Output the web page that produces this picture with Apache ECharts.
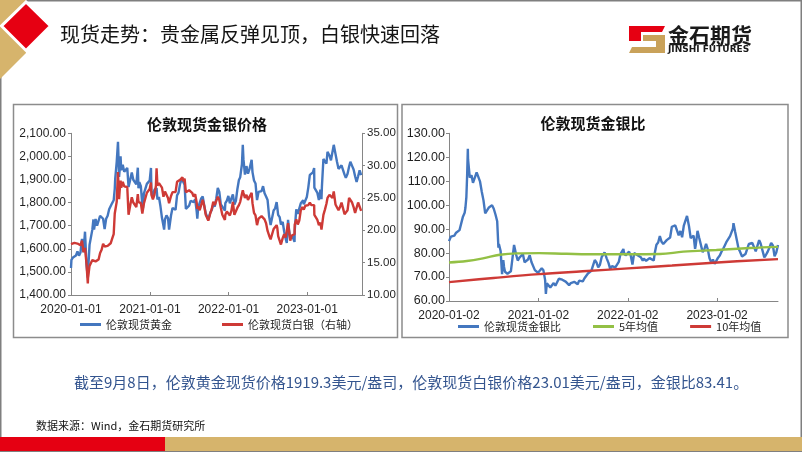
<!DOCTYPE html>
<html>
<head>
<meta charset="utf-8">
<script src="https://cdn.jsdelivr.net/npm/echarts@6/dist/echarts.min.js"></script>
<style>
html,body{margin:0;padding:0;background:#fff;}
#c{width:802px;height:452px;}
</style>
</head>
<body>
<div id="c"></div>
<script>
// ---------- DATA ----------
const priceDates = [
'2020-01-01','2020-01-03','2020-01-10','2020-01-17','2020-01-24','2020-01-31',
'2020-02-07','2020-02-14','2020-02-21','2020-02-28',
'2020-03-06','2020-03-09','2020-03-13','2020-03-19','2020-03-20','2020-03-27',
'2020-04-03','2020-04-09','2020-04-14','2020-04-17','2020-04-24',
'2020-05-01','2020-05-08','2020-05-15','2020-05-22','2020-05-29',
'2020-06-05','2020-06-12','2020-06-19','2020-06-26',
'2020-07-03','2020-07-10','2020-07-17','2020-07-22','2020-07-24','2020-07-31',
'2020-08-06','2020-08-07','2020-08-11','2020-08-14','2020-08-18','2020-08-21','2020-08-28',
'2020-09-04','2020-09-11','2020-09-18','2020-09-24',
'2020-10-02','2020-10-09','2020-10-16','2020-10-23','2020-10-30',
'2020-11-06','2020-11-09','2020-11-13','2020-11-20','2020-11-27','2020-11-30',
'2020-12-04','2020-12-11','2020-12-18','2020-12-25','2020-12-31',
'2021-01-06','2021-01-08','2021-01-15','2021-01-22','2021-01-29',
'2021-02-01','2021-02-05','2021-02-12','2021-02-19','2021-02-26',
'2021-03-05','2021-03-08','2021-03-12','2021-03-19','2021-03-26','2021-03-31',
'2021-04-09','2021-04-16','2021-04-23','2021-04-30',
'2021-05-07','2021-05-14','2021-05-21','2021-05-28',
'2021-06-01','2021-06-04','2021-06-11','2021-06-17','2021-06-25',
'2021-07-02','2021-07-09','2021-07-16','2021-07-23','2021-07-30',
'2021-08-06','2021-08-09','2021-08-13','2021-08-20','2021-08-27',
'2021-09-03','2021-09-10','2021-09-17','2021-09-24','2021-09-29',
'2021-10-08','2021-10-15','2021-10-22','2021-10-29',
'2021-11-05','2021-11-12','2021-11-16','2021-11-19','2021-11-26',
'2021-12-03','2021-12-10','2021-12-15','2021-12-17','2021-12-24','2021-12-31',
'2022-01-07','2022-01-14','2022-01-21','2022-01-28',
'2022-02-04','2022-02-11','2022-02-18','2022-02-24',
'2022-03-04','2022-03-08','2022-03-11','2022-03-18','2022-03-25',
'2022-04-01','2022-04-08','2022-04-18','2022-04-22','2022-04-29',
'2022-05-06','2022-05-13','2022-05-16','2022-05-20','2022-05-27',
'2022-06-03','2022-06-10','2022-06-17','2022-06-24',
'2022-07-01','2022-07-08','2022-07-15','2022-07-21','2022-07-29',
'2022-08-05','2022-08-12','2022-08-15','2022-08-19','2022-08-26',
'2022-09-01','2022-09-09','2022-09-16','2022-09-23','2022-09-28',
'2022-10-04','2022-10-07','2022-10-14','2022-10-21','2022-10-28',
'2022-11-03','2022-11-04','2022-11-11','2022-11-18','2022-11-25',
'2022-12-02','2022-12-09','2022-12-13','2022-12-16','2022-12-23','2022-12-30',
'2023-01-06','2023-01-13','2023-01-20','2023-01-27',
'2023-02-02','2023-02-03','2023-02-10','2023-02-17','2023-02-24',
'2023-03-03','2023-03-08','2023-03-10','2023-03-17','2023-03-24','2023-03-31',
'2023-04-05','2023-04-14','2023-04-21','2023-04-28',
'2023-05-04','2023-05-12','2023-05-19','2023-05-26',
'2023-06-02','2023-06-09','2023-06-16','2023-06-23','2023-06-29',
'2023-07-07','2023-07-14','2023-07-20','2023-07-28',
'2023-08-04','2023-08-11','2023-08-18','2023-08-25',
'2023-09-01','2023-09-08'
];
const goldPrice = [
1517,1552,1562,1557,1571,1589,
1570,1584,1643,1585,
1674,1680,1530,1475,1499,1617,
1620,1683,1727,1683,1729,
1700,1702,1743,1735,1730,
1685,1730,1743,1771,
1774,1798,1810,1860,1902,1975,
2063,2035,1911,1944,2000,1940,1964,
1934,1940,1950,1868,
1900,1930,1899,1902,1879,
1951,1862,1889,1871,1788,1776,
1839,1839,1881,1877,1895,
1950,1850,1828,1856,1848,
1863,1814,1824,1784,1734,
1700,1683,1727,1745,1733,1683,
1744,1777,1777,1769,
1831,1843,1881,1903,
1910,1891,1877,1773,1781,
1787,1808,1812,1802,1814,
1763,1730,1779,1781,1818,
1827,1788,1754,1750,1726,
1757,1768,1792,1783,
1818,1864,1870,1846,1792,
1783,1782,1765,1798,1809,1829,
1797,1818,1835,1791,
1808,1859,1898,1910,
1966,2050,1988,1921,1958,
1925,1945,1985,1932,1896,
1883,1811,1813,1846,1853,
1850,1871,1840,1826,
1811,1742,1703,1698,1766,
1775,1802,1779,1747,1737,
1705,1716,1675,1644,1625,
1725,1695,1644,1657,1645,
1630,1681,1771,1751,1755,
1797,1798,1810,1793,1798,1824,
1866,1920,1926,1930,
1950,1865,1865,1842,1811,
1856,1815,1868,1989,1978,1969,
2020,2004,1983,1990,
2050,2011,1977,1946,
1948,1961,1958,1921,1907,
1925,1955,1977,1959,
1943,1914,1889,1914,
1940,1919.3
];
const silverPrice = [
17.85,18.10,17.98,18.05,18.00,17.95,
17.70,17.68,18.40,16.65,
17.30,17.00,14.80,11.80,12.60,14.50,
14.40,15.40,15.70,15.40,15.20,
14.90,15.50,16.50,17.00,17.90,
17.50,17.50,17.60,17.70,
18.00,18.70,19.40,22.60,22.70,24.40,
29.00,28.00,24.80,26.20,27.70,26.60,27.50,
26.80,26.80,26.70,22.40,
23.90,25.10,24.30,24.60,23.60,
25.60,24.40,24.60,24.20,22.60,22.60,
24.10,23.90,25.80,26.00,26.40,
27.40,25.50,24.80,25.50,26.90,
29.60,26.90,27.30,27.20,26.60,
25.20,25.00,26.00,26.30,25.00,24.20,
25.30,25.90,26.10,25.90,
27.50,27.30,27.80,28.00,
28.20,27.60,28.00,25.90,26.10,
26.20,26.00,25.80,25.20,25.60,
24.30,23.30,23.70,23.10,23.90,
24.70,23.80,22.40,22.50,21.50,
22.60,23.30,24.40,23.90,
24.20,25.20,25.30,24.70,23.50,
22.40,22.20,21.60,22.40,22.90,23.10,
22.30,23.00,24.40,22.40,
22.40,23.50,23.90,24.40,
25.60,26.20,25.80,25.00,25.50,
24.70,24.80,25.80,24.20,22.70,
22.30,20.80,21.20,21.80,22.10,
22.20,21.90,21.70,21.10,
19.90,19.20,18.60,18.60,20.20,
19.90,20.80,20.40,19.10,18.90,
17.80,18.80,19.40,18.90,18.60,
21.10,20.30,18.40,19.20,19.10,
19.40,20.90,21.70,20.90,21.50,
23.10,23.60,23.70,23.20,23.80,24.00,
23.90,24.30,23.90,23.60,
23.90,22.40,22.00,21.60,20.80,
21.20,20.10,20.20,22.40,23.20,24.10,
25.00,25.50,25.20,25.00,
26.00,24.00,23.80,23.10,
23.60,24.30,24.20,22.50,22.70,
23.10,25.00,25.00,24.30,
23.60,22.70,22.70,24.30,
24.20,23.01
];
const ratioDates = [
'2020-01-02','2020-01-03','2020-01-10','2020-01-17','2020-01-24','2020-01-31',
'2020-02-07','2020-02-14','2020-02-21','2020-02-28',
'2020-03-06','2020-03-09','2020-03-13','2020-03-16','2020-03-19','2020-03-20','2020-03-27',
'2020-04-03','2020-04-09','2020-04-14','2020-04-17','2020-04-24',
'2020-05-01','2020-05-08','2020-05-15','2020-05-22','2020-05-29',
'2020-06-05','2020-06-12','2020-06-19','2020-06-26',
'2020-07-03','2020-07-10','2020-07-17','2020-07-22','2020-07-24','2020-07-31',
'2020-08-06','2020-08-07','2020-08-11','2020-08-14','2020-08-18','2020-08-21','2020-08-28',
'2020-09-04','2020-09-11','2020-09-18','2020-09-24',
'2020-10-02','2020-10-09','2020-10-16','2020-10-23','2020-10-30',
'2020-11-06','2020-11-13','2020-11-20','2020-11-27','2020-11-30',
'2020-12-04','2020-12-11','2020-12-18','2020-12-25','2020-12-31',
'2021-01-06','2021-01-08','2021-01-15','2021-01-22','2021-01-29',
'2021-02-01','2021-02-05','2021-02-12','2021-02-19','2021-02-26',
'2021-03-05','2021-03-12','2021-03-19','2021-03-26','2021-03-31',
'2021-04-09','2021-04-16','2021-04-23','2021-04-30',
'2021-05-07','2021-05-14','2021-05-21','2021-05-28',
'2021-06-04','2021-06-11','2021-06-17','2021-06-25',
'2021-07-02','2021-07-09','2021-07-16','2021-07-23','2021-07-30',
'2021-08-06','2021-08-11','2021-08-20','2021-08-27',
'2021-09-03','2021-09-10','2021-09-17','2021-09-24','2021-09-29',
'2021-10-08','2021-10-15','2021-10-22','2021-10-29',
'2021-11-05','2021-11-12','2021-11-19','2021-11-26',
'2021-12-03','2021-12-10','2021-12-15','2021-12-17','2021-12-24','2021-12-31',
'2022-01-07','2022-01-14','2022-01-21','2022-01-28',
'2022-02-04','2022-02-11','2022-02-18','2022-02-24',
'2022-03-04','2022-03-08','2022-03-11','2022-03-18','2022-03-25',
'2022-04-01','2022-04-08','2022-04-18','2022-04-22','2022-04-29',
'2022-05-06','2022-05-13','2022-05-20','2022-05-27',
'2022-06-03','2022-06-10','2022-06-17','2022-06-24',
'2022-07-01','2022-07-08','2022-07-15','2022-07-21','2022-07-29',
'2022-08-05','2022-08-12','2022-08-19','2022-08-26',
'2022-09-01','2022-09-09','2022-09-16','2022-09-23','2022-09-28',
'2022-10-04','2022-10-07','2022-10-14','2022-10-21','2022-10-28',
'2022-11-04','2022-11-11','2022-11-18','2022-11-25',
'2022-12-02','2022-12-09','2022-12-16','2022-12-23','2022-12-30',
'2023-01-06','2023-01-13','2023-01-20','2023-01-27',
'2023-02-02','2023-02-03','2023-02-10','2023-02-17','2023-02-24',
'2023-03-03','2023-03-08','2023-03-10','2023-03-17','2023-03-24','2023-03-31',
'2023-04-05','2023-04-14','2023-04-21','2023-04-28',
'2023-05-04','2023-05-12','2023-05-19','2023-05-26',
'2023-06-02','2023-06-09','2023-06-16','2023-06-23','2023-06-29',
'2023-07-07','2023-07-14','2023-07-20','2023-07-28',
'2023-08-04','2023-08-11','2023-08-18','2023-08-25',
'2023-09-01','2023-09-08'
];
const goldSilverRatio = [
85.0,85.7,86.9,86.3,87.3,88.5,
88.7,89.6,89.3,95.2,
96.8,98.8,103.4,112.0,123.5,119.0,111.5,
112.5,109.3,110.0,109.3,113.7,
114.1,109.8,105.6,102.0,96.6,
96.3,98.9,99.0,100.0,
98.5,96.1,93.3,82.3,83.8,80.9,
71.2,72.7,77.1,74.2,72.2,72.9,71.4,
72.2,72.4,73.0,83.4,
79.5,76.9,78.1,77.3,79.6,
76.2,76.8,77.3,79.1,78.6,
76.3,77.0,72.9,72.2,71.8,
71.2,72.5,73.7,72.8,68.7,
63.0,67.4,66.8,65.6,65.2,
67.5,66.4,66.3,69.3,69.5,
68.9,68.6,68.1,68.3,
66.6,67.5,67.7,68.0,
68.5,67.0,68.5,68.2,
68.2,69.5,70.2,71.5,70.9,
72.6,74.2,77.1,76.1,
74.0,75.1,78.3,77.8,80.3,
77.7,75.9,73.4,74.6,
75.1,74.0,74.7,76.3,
79.6,80.3,81.7,80.3,79.0,79.2,
80.6,79.0,75.2,80.0,
80.7,79.1,79.4,78.3,
76.8,77.7,77.1,76.8,76.8,
77.9,78.4,76.9,79.9,83.5,
84.4,87.1,84.7,83.8,
83.3,85.4,84.8,86.5,
91.0,90.7,91.6,91.3,87.4,
89.2,86.6,91.5,91.9,
95.5,91.3,86.3,87.0,87.3,
81.8,83.5,89.3,86.3,86.1,
80.4,81.6,83.8,81.6,
77.8,76.2,77.3,75.5,76.0,
78.1,79.0,80.6,81.8,
81.6,83.3,84.8,85.3,87.1,
87.6,90.3,92.5,88.8,85.3,81.7,
80.8,78.6,78.7,79.6,
78.8,83.8,83.1,84.2,
82.5,80.7,80.9,85.4,84.0,
83.3,78.2,79.1,80.6,
82.3,84.3,83.2,78.7,
80.2,83.41
];
const ma5Dates = ['2020-01-02','2020-03-15','2020-05-20','2020-07-28','2020-10-05','2021-01-04','2021-04-27','2021-09-10','2022-01-03','2022-05-13','2022-08-17','2022-12-30','2023-05-16','2023-09-08'];
const ma5Values = [76.1,76.7,77.8,79.3,79.9,80.0,79.7,79.5,79.5,79.6,80.6,81.3,82.1,82.6];
const ma10Dates = ['2020-01-02','2020-07-02','2021-01-04','2021-07-02','2022-01-03','2022-07-02','2023-01-03','2023-09-08'];
const ma10Values = [67.9,69.6,71.2,72.4,73.6,74.8,76.1,77.5];

const priceTickLabels = ['2020-01-01','2021-01-01','2022-01-01','2023-01-01'];
const ratioTickLabels = ['2020-01-02','2021-01-02','2022-01-02','2023-01-02'];

const seriesNames = ['伦敦现货黄金','伦敦现货白银（右轴）','伦敦现货金银比','5年均值','10年均值'];
const chartTitles = ['伦敦现货金银价格','伦敦现货金银比'];
const pageTitle = '现货走势：贵金属反弹见顶，白银快速回落';
const noteText = '截至9月8日，伦敦黄金现货价格1919.3美元/盎司，伦敦现货白银价格23.01美元/盎司，金银比83.41。';
const sourceText = '数据来源：Wind，金石期货研究所';

// ---------- helpers ----------
const DAY = 86400000;
function dayOf(d, base){ return Math.round((Date.parse(d) - Date.parse(base)) / DAY); }
const priceBase = priceTickLabels[0], ratioBase = ratioTickLabels[0];
const priceTickDays = priceTickLabels.map(d => dayOf(d, priceBase));
const ratioTickDays = ratioTickLabels.map(d => dayOf(d, ratioBase));
function pairs(dates, vals, base){ return dates.map((d,i)=>[dayOf(d, base), vals[i]]); }
function comma(v){ const p = v.toFixed(2).split('.'); p[0] = p[0].replace(/\B(?=(\d{3})+(?!\d))/g, ','); return p.join('.'); }
function tickLabel(v, days, labels){ const i = days.indexOf(Math.round(v)); return i >= 0 ? labels[i] : ''; }

const BLUE = '#4477BF', RED = '#CE3A36', GREEN = '#93C045';
const AX = '#868686', LBL = '#1f1f1f';
const CJK = 'Noto Sans CJK SC';
const NUM = 'Liberation Sans';
const NARROW = '"Liberation Sans Narrow", "Liberation Sans"';
const LW = 2.4;

function xAxisCfg(gridIndex, max, days, labels){
  return {
    type:'value', gridIndex, min:0, max,
    axisLine:{show:true, lineStyle:{color:AX, width:1}},
    axisTick:{show:true, inside:true, length:3, customValues:days, lineStyle:{color:AX}},
    axisLabel:{customValues:days, formatter:v=>tickLabel(v, days, labels), margin:9,
      fontFamily:NARROW, fontSize:12, color:LBL},
    splitLine:{show:false}
  };
}
function yAxisCfg(gridIndex, min, max, interval, position, fmt, fontSize, margin){
  return {
    type:'value', gridIndex, min, max, interval, position,
    axisLine:{show:true, lineStyle:{color:AX, width:1}},
    axisTick:{show:true, length:3, lineStyle:{color:AX}},
    axisLabel:{formatter:fmt, margin, fontFamily:NUM, fontSize, color:LBL},
    splitLine:{show:false}
  };
}

const chart = echarts.init(document.getElementById('c'), null, {renderer:'canvas'});

const graphics = [
  {type:'rect', shape:{x:0.75, y:0.75, width:800.5, height:450.5}, style:{fill:'none', stroke:'#7f7f7f', lineWidth:1.5}},
  {type:'polygon', shape:{points:[[0,0],[26,0],[26,53],[0,79]]}, style:{fill:'#D6B46C'}},
  {type:'polygon', shape:{points:[[26,2],[50.5,26],[26,50.5],[1.5,26]]}, style:{fill:'#E60012', stroke:'#fff', lineWidth:3}},
  {type:'text', x:60, y:34, style:{text:pageTitle, fontSize:20, fontFamily:CJK, fill:'#141414', align:'left', verticalAlign:'middle', textAlign:'left', textVerticalAlign:'middle'}},
  // logo
  {type:'polygon', shape:{points:[[629,26],[665,26],[662,32],[641,32],[641,41],[629,41]]}, style:{fill:'#E60012'}},
  {type:'polygon', shape:{points:[[643,35],[665,35],[665,53],[629,53],[632,47],[656,47],[656,41],[643,41]]}, style:{fill:'#C9A25A'}},
  {type:'text', x:668, y:35, style:{text:'金石期货', fontSize:21, fontWeight:'bold', fontFamily:CJK, fill:'#1a1a1a', align:'left', verticalAlign:'middle', textAlign:'left', textVerticalAlign:'middle'}},
  {type:'text', x:668, y:50, style:{text:'JINSHI FUTURES', fontSize:9, fontWeight:'bold', fontFamily:'DejaVu Sans', fill:'#1a1a1a', align:'left', verticalAlign:'middle', textAlign:'left', textVerticalAlign:'middle'}},
  // panels
  {type:'rect', shape:{x:13.5, y:104.5, width:384, height:233}, style:{fill:'none', stroke:'#8c8c8c', lineWidth:1.5}},
  {type:'rect', shape:{x:402, y:104.5, width:386, height:233}, style:{fill:'none', stroke:'#8c8c8c', lineWidth:1.5}},
  {type:'text', x:207, y:124, style:{text:chartTitles[0], fontSize:15, fontWeight:'bold', fontFamily:CJK, fill:'#111', align:'center', verticalAlign:'middle', textAlign:'center', textVerticalAlign:'middle'}},
  {type:'text', x:593, y:123, style:{text:chartTitles[1], fontSize:15, fontWeight:'bold', fontFamily:CJK, fill:'#111', align:'center', verticalAlign:'middle', textAlign:'center', textVerticalAlign:'middle'}},
  // bottom texts
  {type:'text', x:74, y:382, style:{text:noteText, fontSize:15, fontFamily:CJK, fill:'#34558F', align:'left', verticalAlign:'middle', textAlign:'left', textVerticalAlign:'middle'}},
  {type:'text', x:36, y:426, style:{text:sourceText, fontSize:11, fontFamily:CJK, fill:'#111', align:'left', verticalAlign:'middle', textAlign:'left', textVerticalAlign:'middle'}},
  {type:'rect', shape:{x:0, y:437, width:165, height:14}, style:{fill:'#E50012'}},
  {type:'rect', shape:{x:165, y:437, width:637, height:14}, style:{fill:'#D6B46C'}}
];

const legendCommon = {
  orient:'horizontal', icon:'rect', itemWidth:21, itemHeight:3, selectedMode:false, padding:0,
  textStyle:{fontFamily:CJK, fontSize:11, color:LBL}
};

chart.setOption({
  animation:false,
  backgroundColor:'#fff',
  graphic:graphics,
  grid:[
    {left:71, top:133.3, width:291, height:161.7, containLabel:false},
    {left:449, top:133.3, width:329, height:167.7, containLabel:false}
  ],
  legend:[
    Object.assign({}, legendCommon, {data:[seriesNames[0], seriesNames[1]], left:80, top:319, itemGap:50}),
    Object.assign({}, legendCommon, {data:[seriesNames[2], seriesNames[3], seriesNames[4]], left:458, top:321, itemGap:32})
  ],
  xAxis:[
    xAxisCfg(0, 1350, priceTickDays, priceTickLabels),
    xAxisCfg(1, 1345, ratioTickDays, ratioTickLabels)
  ],
  yAxis:[
    yAxisCfg(0, 1400, 2100, 100, 'left', comma, 12, 5),
    yAxisCfg(0, 10, 35, 5, 'right', v=>v.toFixed(2), 11.5, 5),
    yAxisCfg(1, 60, 130, 10, 'left', v=>v.toFixed(2), 12.5, 4)
  ],
  series:[
    {name:seriesNames[0], type:'line', xAxisIndex:0, yAxisIndex:0, showSymbol:false, symbol:'none',
      data:pairs(priceDates, goldPrice, priceBase), lineStyle:{color:BLUE, width:LW}, itemStyle:{color:BLUE}, z:2},
    {name:seriesNames[1], type:'line', xAxisIndex:0, yAxisIndex:1, showSymbol:false, symbol:'none',
      data:pairs(priceDates, silverPrice, priceBase), lineStyle:{color:RED, width:LW}, itemStyle:{color:RED}, z:3},
    {name:seriesNames[2], type:'line', xAxisIndex:1, yAxisIndex:2, showSymbol:false, symbol:'none',
      data:pairs(ratioDates, goldSilverRatio, ratioBase), lineStyle:{color:BLUE, width:LW}, itemStyle:{color:BLUE}, z:2},
    {name:seriesNames[3], type:'line', xAxisIndex:1, yAxisIndex:2, showSymbol:false, symbol:'none', smooth:0.4,
      data:pairs(ma5Dates, ma5Values, ratioBase), lineStyle:{color:GREEN, width:LW}, itemStyle:{color:GREEN}, z:3},
    {name:seriesNames[4], type:'line', xAxisIndex:1, yAxisIndex:2, showSymbol:false, symbol:'none', smooth:0.4,
      data:pairs(ma10Dates, ma10Values, ratioBase), lineStyle:{color:RED, width:LW}, itemStyle:{color:RED}, z:3}
  ]
});
</script>
</body>
</html>
